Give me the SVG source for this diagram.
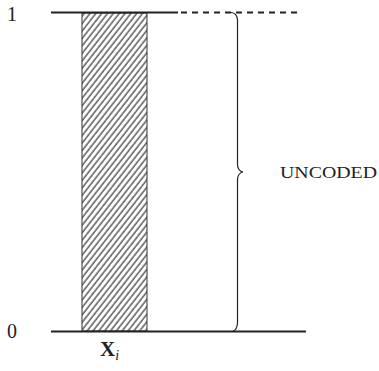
<svg xmlns="http://www.w3.org/2000/svg" width="379" height="371" viewBox="0 0 379 371">
<style>
.lbl{font-family:'Liberation Serif','DejaVu Serif',serif;fill:#222}
.ln{stroke:#222;fill:none}
</style>
<defs>
<pattern id="hatch" patternUnits="userSpaceOnUse" width="4.6" height="10" patternTransform="rotate(38)">
<line x1="1" y1="0" x2="1" y2="10" stroke="#222" stroke-width="1.1"/>
</pattern>
</defs>
<rect width="379" height="371" fill="#fff"/>
<g id="bar">
<rect x="82" y="13" width="65" height="318" fill="url(#hatch)" stroke="#333" stroke-width="1"/>
</g>
<g id="connectors">
<line class="ln" x1="51" y1="12.5" x2="178" y2="12.5" stroke-width="2.2"/>
<line class="ln" x1="181" y1="12.5" x2="302" y2="12.5" stroke-width="2" stroke-dasharray="6,5"/>
<line class="ln" x1="51" y1="331.5" x2="306" y2="331.5" stroke-width="2.2"/>
<path id="brace" class="ln" stroke-width="1.2" d="M231,12.5 Q237,13 237.5,20 L237.5,165 Q238,171 243,172 Q238,173 237.5,179 L237.5,323 Q237,330 233,331"/>
</g>
<g id="labels">
<text class="lbl" x="7" y="21" font-size="20">1</text>
<text class="lbl" x="7" y="338" font-size="20">0</text>
<text class="lbl" x="280" y="178" font-size="16" textLength="97" lengthAdjust="spacingAndGlyphs">UNCODED</text>
<text class="lbl" x="100" y="356" font-size="21" font-weight="bold">X<tspan font-size="14" font-style="italic" font-weight="normal" dy="4">i</tspan></text>
</g>
</svg>
